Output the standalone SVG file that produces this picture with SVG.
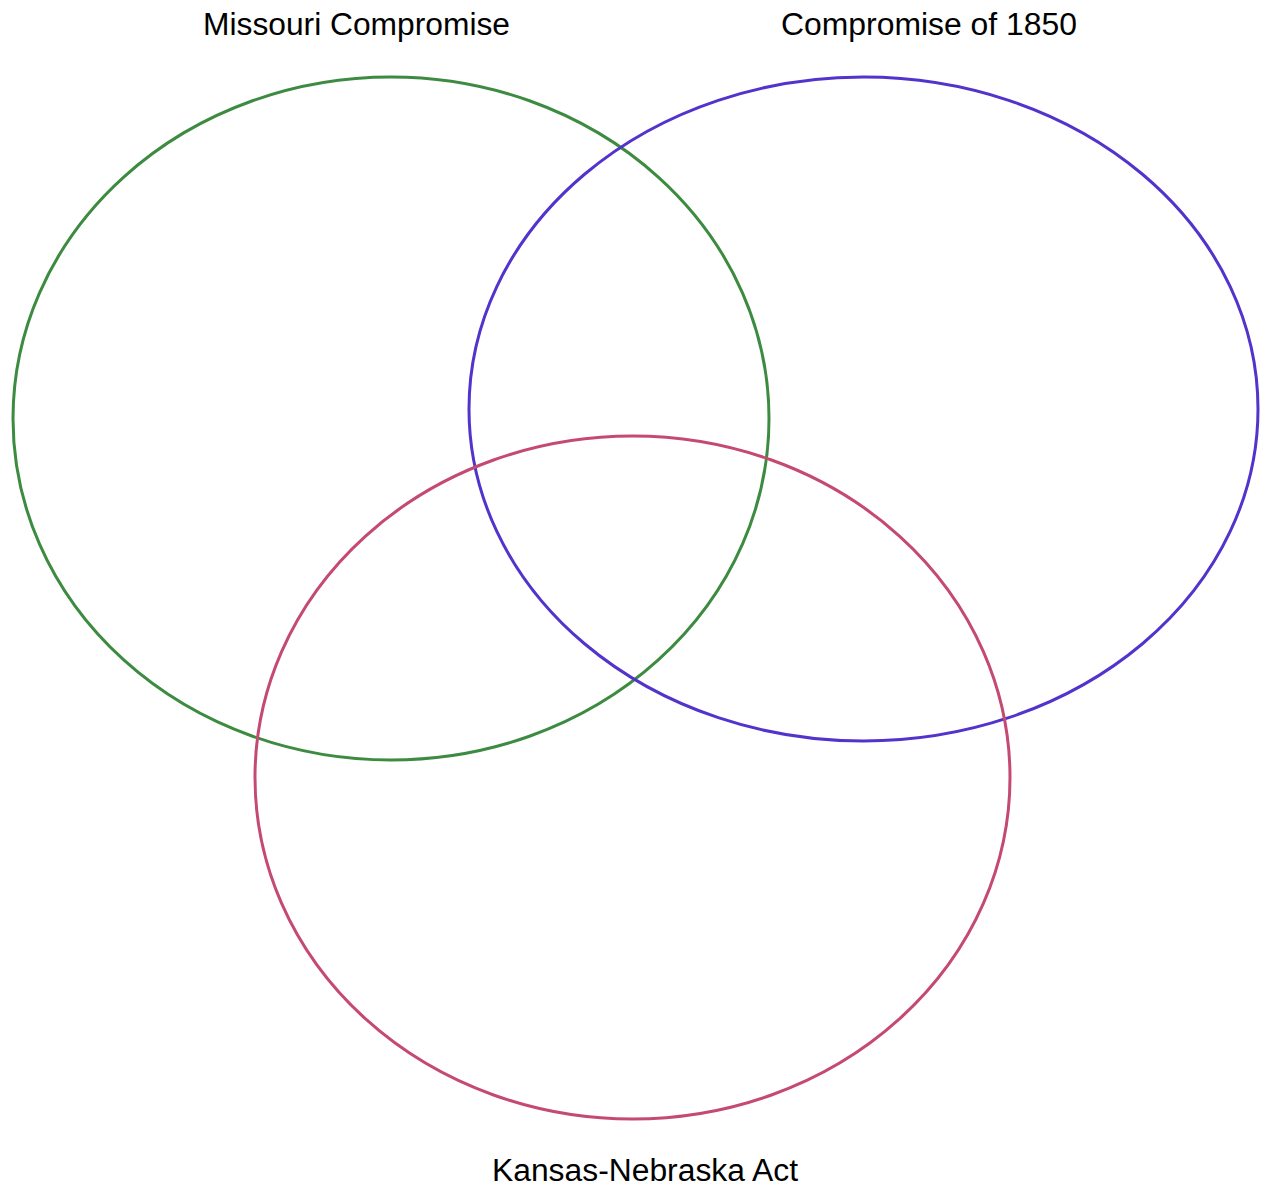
<svg xmlns="http://www.w3.org/2000/svg" width="1262" height="1188" viewBox="0 0 1262 1188">
<style>
.c{fill:none;stroke-width:3}
.t{font-family:"Liberation Sans",Arial,sans-serif;font-size:31px;fill:#000;text-anchor:middle}
</style>
<rect width="1262" height="1188" fill="#fff"/>
<g id="missouri">
<ellipse class="c" cx="391" cy="418.5" rx="378" ry="341.5" stroke="#3d8b40"/>
<text class="t" x="356.5" y="35" textLength="307" lengthAdjust="spacingAndGlyphs">Missouri Compromise</text>
</g>
<g id="compromise1850">
<ellipse class="c" cx="863.5" cy="409" rx="394.5" ry="332" stroke="#5233cc"/>
<text class="t" x="929" y="35" textLength="296" lengthAdjust="spacingAndGlyphs">Compromise of 1850</text>
</g>
<g id="kansas">
<ellipse class="c" cx="632.5" cy="777.5" rx="377.5" ry="341.5" stroke="#c44a72"/>
<text class="t" x="645" y="1181" textLength="306" lengthAdjust="spacingAndGlyphs">Kansas-Nebraska Act</text>
</g>
<g id="connectors"></g>
</svg>
